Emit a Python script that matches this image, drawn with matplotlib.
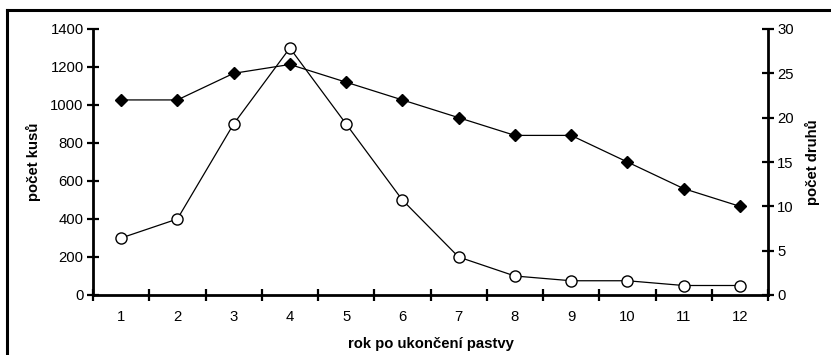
import matplotlib.pyplot as plt
from matplotlib.lines import Line2D
from matplotlib.ticker import MultipleLocator

plt.rcParams['font.family'] = ['Liberation Sans', 'DejaVu Sans']

# data
roky = [1, 2, 3, 4, 5, 6, 7, 8, 9, 10, 11, 12]
pocet_kusu = [300, 400, 900, 1300, 900, 500, 200, 100, 75, 75, 50, 50]
pocet_druhu = [22, 22, 25, 26, 24, 22, 20, 18, 18, 15, 12, 10]

FS = 10.7

fig = plt.figure(figsize=(8.31, 3.55), dpi=100)
ax = fig.add_axes([93 / 831, 60 / 355, 675 / 831, 266 / 355])
ax2 = ax.twinx()

ax.plot(roky, pocet_kusu, color='black', lw=0.9, marker='o', markersize=8,
        markerfacecolor='white', markeredgecolor='black', markeredgewidth=1, zorder=3)
ax2.plot(roky, pocet_druhu, color='black', lw=0.9, marker='D', markersize=5.8,
         markerfacecolor='black', markeredgecolor='black', zorder=3)

ax.set_xlim(0.5, 12.5)
ax.set_ylim(0, 1400)
ax2.set_ylim(0, 30)

ax.set_xticks(roky)
ax.set_xticks([r + 0.5 for r in [0] + roky], minor=True)
ax.yaxis.set_major_locator(MultipleLocator(200))
ax2.yaxis.set_major_locator(MultipleLocator(5))

for a in (ax, ax2):
    for s in a.spines.values():
        s.set_visible(False)
    a.tick_params(labelsize=FS, width=1.6, color='black')

ax.spines['left'].set_visible(True)
ax.spines['bottom'].set_visible(True)
ax.spines['left'].set_linewidth(2)
ax.spines['bottom'].set_linewidth(2)
ax2.spines['right'].set_visible(True)
ax2.spines['right'].set_linewidth(2)

ax.tick_params(axis='x', which='major', length=0, pad=11)
ax.tick_params(axis='x', which='minor', direction='inout', length=8.5, width=1.6)
ax.tick_params(axis='y', direction='inout', length=8.5, pad=2.5)
ax2.tick_params(axis='y', direction='inout', length=8.5, pad=2.5)

ax.set_xlabel('rok po ukončení pastvy', fontsize=FS, fontweight='bold', labelpad=9)
ax.set_ylabel('počet kusů', fontsize=FS, fontweight='bold', labelpad=6.5)
ax2.set_ylabel('počet druhů', fontsize=FS, fontweight='bold', labelpad=8)

# outer frame (only left and top edges fall inside the picture)
x0, y0 = 7 / 831, 1 - 10 / 355
fig.add_artist(Line2D([x0, x0], [0, y0], color='black', lw=2.2, transform=fig.transFigure))
fig.add_artist(Line2D([x0, 1], [y0, y0], color='black', lw=2.2, transform=fig.transFigure))

fig.savefig('out.png', dpi=100)
